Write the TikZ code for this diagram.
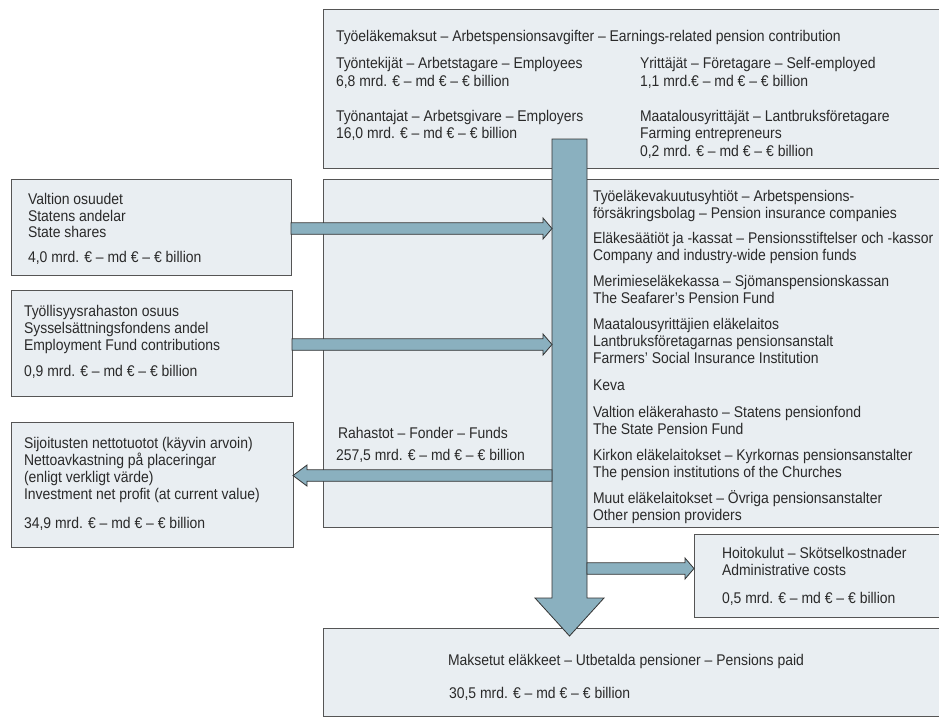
\documentclass[tikz,border=0pt]{standalone}
\usepackage{fontspec}
\setmainfont{Liberation Sans}[FakeStretch=0.9]
\usetikzlibrary{calc}
\definecolor{boxfill}{HTML}{E9EEF2}
\definecolor{boxline}{HTML}{555555}
\definecolor{arrfill}{HTML}{8AB0BF}
\definecolor{arrline}{HTML}{333333}
\definecolor{txt}{HTML}{2A2A2A}
\newcommand\lab[4]{\node[lbl] (#1) at (#2,#3) {#4};}
\newcommand\rarrow[2]{\draw[flow] ($(#1)+(0,-5.75)$) -- ($(#2)+(-9,-5.75)$) -- ($(#2)+(-9,-10.5)$) -- (#2) -- ($(#2)+(-9,10.5)$) -- ($(#2)+(-9,5.75)$) -- ($(#1)+(0,5.75)$) -- cycle;}
\newcommand\larrow[2]{\draw[flow] ($(#1)+(0,-5.75)$) -- ($(#2)+(14,-5.75)$) -- ($(#2)+(14,-10.5)$) -- (#2) -- ($(#2)+(14,10.5)$) -- ($(#2)+(14,5.75)$) -- ($(#1)+(0,5.75)$) -- cycle;}
\begin{document}
\begin{tikzpicture}[x=1pt,y=-1pt,
  panel/.style={draw=boxline, fill=boxfill, line width=0.9pt, anchor=north west, inner sep=0pt, outer sep=0pt},
  flow/.style={draw=arrline, fill=arrfill, line width=0.8pt, line join=miter},
  lbl/.style={anchor=base west, inner sep=0pt, outer sep=0pt, text=txt, font=\fontsize{15.5}{17}\selectfont}]
\useasboundingbox[fill=white] (0,0) rectangle (939,717);
\clip (0,0) rectangle (939,717);
% boxes
\node[panel, minimum width=622pt, minimum height=159pt] (top) at (323,9) {};
\node[panel, minimum width=622pt, minimum height=348pt] (mid) at (323,179) {};
\node[panel, minimum width=280pt, minimum height=96pt] (b1) at (11,179) {};
\node[panel, minimum width=281pt, minimum height=106pt] (b2) at (11,290) {};
\node[panel, minimum width=282pt, minimum height=125pt] (b3) at (11,422) {};
\node[panel, minimum width=251pt, minimum height=83pt] (cost) at (694,534) {};
\node[panel, minimum width=622pt, minimum height=88pt] (paid) at (323,628) {};
% main vertical arrow
\coordinate (shL) at (552,139);
\coordinate (shR) at (587,139);
\coordinate (tip) at (569.5,636);
\draw[flow] (shL) -- (shR) -- (shR |- 0,598) -- (604,598) -- (tip) -- (535,598) -- (shL |- 0,598) -- cycle;
% side arrows
\coordinate (a1s) at (b1.east |- 0,228.5);
\coordinate (a1e) at (shL |- 0,228.5);
\coordinate (a2s) at (b2.east |- 0,344.5);
\coordinate (a2e) at (shL |- 0,344.5);
\coordinate (a3s) at (shL |- 0,475.5);
\coordinate (a3e) at (b3.east |- 0,475.5);
\coordinate (a4s) at (shR |- 0,568.5);
\coordinate (a4e) at (cost.west |- 0,568.5);
\rarrow{a1s}{a1e}
\rarrow{a2s}{a2e}
\larrow{a3s}{a3e}
\rarrow{a4s}{a4e}
% top box texts
\lab{t0}{336}{42}{Työeläkemaksut – Arbetspensionsavgifter – Earnings-related pension contribution}
\lab{t1}{336}{68}{Työntekijät – Arbetstagare – Employees}
\lab{t2}{336}{86}{6,8 mrd. € – md € – € billion}
\lab{t3}{336}{121}{Työnantajat – Arbetsgivare – Employers}
\lab{t4}{336}{138}{16,0 mrd. € – md € – € billion}
\lab{t5}{640}{68}{Yrittäjät – Företagare – Self-employed}
\lab{t6}{640}{86}{1,1 mrd.€ – md € – € billion}
\lab{t7}{640}{121}{Maatalousyrittäjät – Lantbruksföretagare}
\lab{t8}{640}{138}{Farming entrepreneurs}
\lab{t9}{640}{156}{0,2 mrd. € – md € – € billion}
% left boxes
\lab{l1}{28}{204}{Valtion osuudet}
\lab{l2}{28}{221}{Statens andelar}
\lab{l3}{28}{237}{State shares}
\lab{l4}{28}{262}{4,0 mrd. € – md € – € billion}
\lab{m1}{24}{316}{Työllisyysrahaston osuus}
\lab{m2}{24}{333}{Sysselsättningsfondens andel}
\lab{m3}{24}{350}{Employment Fund contributions}
\lab{m4}{24}{376}{0,9 mrd. € – md € – € billion}
\lab{n1}{24}{448}{Sijoitusten nettotuotot (käyvin arvoin)}
\lab{n2}{24}{465}{Nettoavkastning på placeringar}
\lab{n3}{24}{482}{(enligt verkligt värde)}
\lab{n4}{24}{499}{Investment net profit (at current value)}
\lab{n5}{24}{528}{34,9 mrd. € – md € – € billion}
% funds
\lab{f1}{338}{438}{Rahastot – Fonder – Funds}
\lab{f2}{336}{460}{257,5 mrd. € – md € – € billion}
% providers
\lab{p1}{593}{201}{Työeläkevakuutusyhtiöt – Arbetspensions-}
\lab{p2}{593}{218}{försäkringsbolag – Pension insurance companies}
\lab{p3}{593}{243}{Eläkesäätiöt ja -kassat – Pensionsstiftelser och -kassor}
\lab{p4}{593}{260}{Company and industry-wide pension funds}
\lab{p5}{593}{286}{Merimieseläkekassa – Sjömanspensionskassan}
\lab{p6}{593}{303}{The Seafarer's Pension Fund}
\lab{p7}{593}{329}{Maatalousyrittäjien eläkelaitos}
\lab{p8}{593}{346}{Lantbruksföretagarnas pensionsanstalt}
\lab{p9}{593}{363}{Farmers' Social Insurance Institution}
\lab{p10}{593}{390}{Keva}
\lab{p11}{593}{417}{Valtion eläkerahasto – Statens pensionfond}
\lab{p12}{593}{434}{The State Pension Fund}
\lab{p13}{593}{460}{Kirkon eläkelaitokset – Kyrkornas pensionsanstalter}
\lab{p14}{593}{477}{The pension institutions of the Churches}
\lab{p15}{593}{503}{Muut eläkelaitokset – Övriga pensionsanstalter}
\lab{p16}{593}{520}{Other pension providers}
% costs
\lab{c1}{722}{558}{Hoitokulut – Skötselkostnader}
\lab{c2}{722}{575}{Administrative costs}
\lab{c3}{722}{603}{0,5 mrd. € – md € – € billion}
% paid
\lab{d1}{448}{665}{Maksetut eläkkeet – Utbetalda pensioner – Pensions paid}
\lab{d2}{449}{698}{30,5 mrd. € – md € – € billion}
\end{tikzpicture}
\end{document}
